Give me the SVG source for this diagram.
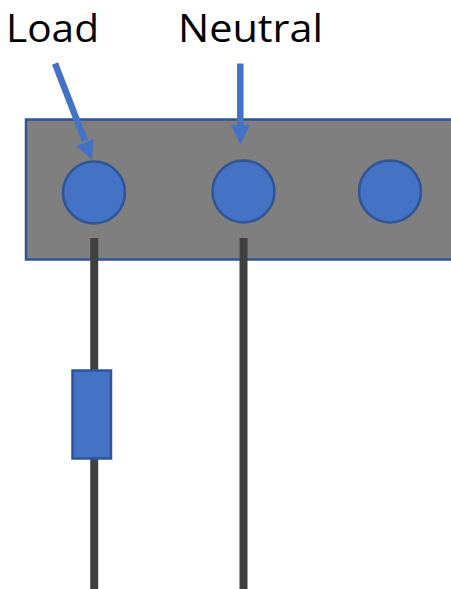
<svg xmlns="http://www.w3.org/2000/svg" width="451" height="589" viewBox="0 0 451 589">
<style>
.label{font-family:"Open Sans","Noto Sans","Liberation Sans",sans-serif;font-size:38px;fill:#000}
.shape{fill:#4472c4;stroke:#2f5597;stroke-width:2.500}
.wire{stroke:#404040;stroke-width:8;fill:none}
.arrow{stroke:#4472c4;stroke-width:6.500;fill:none}
.head{fill:#4472c4}
</style>
<rect width="451" height="589" fill="#fff"/>
<g id="panel"><rect x="26" y="119.500" width="440" height="140" fill="#7f7f7f" stroke="#2f5597" stroke-width="2.500"/></g>
<g id="terminal-load"><circle class="shape" cx="94" cy="192.500" r="31"/></g>
<g id="terminal-neutral"><circle class="shape" cx="243.500" cy="191.500" r="31"/></g>
<g id="terminal-third"><circle class="shape" cx="390" cy="191.500" r="31"/></g>
<g id="connectors">
<path class="wire" d="M94.200 238V589"/>
<path class="wire" d="M243.500 238V589"/>
<path class="arrow" d="M55 63.500L85 141"/>
<path class="head" d="M92 160L76 146L93.500 139Z"/>
<path class="arrow" d="M240.300 63.500V127"/>
<path class="head" d="M240.300 145L231 125H250Z"/>
</g>
<g id="resistor"><rect class="shape" x="72.500" y="370.500" width="38.500" height="88"/></g>
<g id="label-load"><text class="label" x="6" y="41.500" textLength="93" lengthAdjust="spacingAndGlyphs">Load</text></g>
<g id="label-neutral"><text class="label" x="178" y="41.500" textLength="145" lengthAdjust="spacingAndGlyphs">Neutral</text></g>
</svg>
